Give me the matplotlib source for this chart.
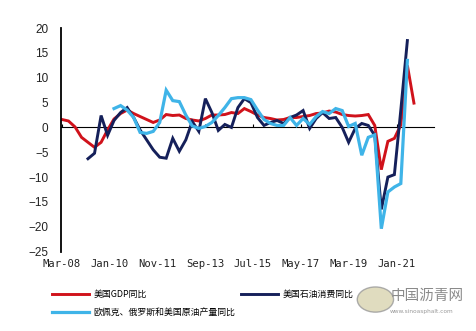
import numpy as np
import pandas as pd
import matplotlib
matplotlib.use("Agg")
import matplotlib.pyplot as plt
import matplotlib.dates as mdates
from matplotlib.lines import Line2D
from matplotlib.patches import Circle

nan = np.nan
dates = pd.date_range("2008-03-01", periods=55, freq="3MS")

gdp = [1.6, 1.3, 0.1, -2.0, -3.0, -4.0, -3.0, -0.5, 1.7, 2.8,
       3.5, 2.8, 2.2, 1.6, 1.0, 1.5, 2.6, 2.4, 2.5, 1.8,
       1.5, 1.3, 1.8, 2.5, 2.5, 2.6, 3.0, 2.8, 3.8, 3.2,
       2.5, 2.0, 1.8, 1.5, 1.6, 2.0, 2.0, 2.2, 2.4, 2.8,
       2.9, 3.3, 3.1, 2.6, 2.4, 2.3, 2.4, 2.6, 0.4, -8.5,
       -2.8, -2.2, 0.5, 12.5, 4.9]

consumption = [nan, nan, nan, nan, -6.3, -5.2, 2.4, -1.6, 1.4, 3.0,
               4.0, 2.0, -0.5, -2.5, -4.5, -6.0, -6.2, -2.2, -4.8, -2.5,
               1.2, -0.8, 5.8, 3.0, -0.6, 0.6, 0.0, 4.0, 5.8, 5.0,
               2.0, 0.4, 1.0, 1.4, 0.8, 2.0, 2.5, 3.4, -0.2, 1.8,
               3.0, 1.8, 2.0, 0.0, -3.0, -0.2, 0.8, 0.4, -1.6, -16.5,
               -10.0, -9.5, 3.5, 17.5, nan]

production = [nan, nan, nan, nan, nan, nan, nan, nan, 3.8, 4.4,
              3.5, 2.0, -1.0, -1.2, -0.8, 1.0, 7.5, 5.4, 5.2, 2.5,
              0.3, -0.2, 0.2, 1.0, 2.4, 4.0, 5.8, 6.0, 6.0, 5.6,
              3.5, 1.6, 0.8, 0.4, 0.4, 2.0, 0.4, 1.8, 0.6, 2.2,
              3.2, 2.8, 3.8, 3.4, 0.2, 0.8, -5.6, -2.0, -1.5, -20.4,
              -13.0, -12.0, -11.3, 13.5, nan]

series_labels = ["美国GDP同比", "美国石油消费同比", "欧佩克、俄罗斯和美国原油产量同比"]
tick_dates = pd.date_range("2008-03-01", periods=8, freq="22MS")
yticks = [20, 15, 10, 5, 0, -5, -10, -15, -20, -25]

c_red = "#d0121b"
c_navy = "#15205a"
c_light = "#3fb4e8"

fig = plt.figure(figsize=(4.77, 3.31), dpi=100)
ax = fig.add_axes([0.128, 0.240, 0.782, 0.675])

ax.plot(dates, gdp, color=c_red, lw=2.1, solid_joinstyle="miter")
ax.plot(dates, consumption, color=c_navy, lw=2.1, solid_joinstyle="miter")
ax.plot(dates, production, color=c_light, lw=2.3, solid_joinstyle="miter")

ax.set_ylim(-25, 20)
ax.set_yticks(yticks)
ax.set_yticklabels([str(v).replace("-", "\u2212") for v in yticks],
                   fontsize=8.5, family="Liberation Sans", color="#222222")
ax.tick_params(axis="y", length=0, pad=9)

ax.set_xlim(pd.Timestamp("2008-02-18"), pd.Timestamp("2022-06-10"))
ax.set_xticks(tick_dates)
ax.set_xticklabels([d.strftime("%b-%y") for d in tick_dates],
                   fontsize=7.6, family="DejaVu Sans Mono", color="#222222")
ax.tick_params(axis="x", length=0, pad=5)

for s in ["top", "right", "bottom"]:
    ax.spines[s].set_visible(False)
ax.spines["left"].set_linewidth(1.3)
ax.spines["left"].set_color("black")

# zero axis line with small ticks
sec = ax.secondary_xaxis(25 / 45)
sec.set_xticks(tick_dates)
sec.set_xticklabels([])
sec.tick_params(axis="x", direction="out", length=2.5, width=0.8, color="black")
sec.spines["bottom"].set_linewidth(1.1)
sec.spines["bottom"].set_color("black")

handles = [Line2D([], [], color=c_red, lw=2.1),
           Line2D([], [], color=c_light, lw=2.3),
           Line2D([], [], color=c_navy, lw=2.1)]
labels = [series_labels[0], series_labels[2], series_labels[1]]
fig.legend(handles, labels, loc="upper left", bbox_to_anchor=(0.095, 0.143),
           ncol=2, frameon=False, prop={"family": "Noto Sans CJK SC", "size": 6.4},
           handlelength=4.2, handletextpad=0.5, columnspacing=0.6,
           labelspacing=1.0, borderpad=0.2)

# watermark
fig.patches.append(Circle((0.787, 0.095), 0.038, transform=fig.transFigure,
                          facecolor="#d9d4b0", edgecolor="#9a9a9a", lw=1.0, alpha=0.8))
fig.text(0.818, 0.105, "中国沥青网", family="Noto Sans CJK SC", fontsize=10.5,
         color="#8a8a8a", va="center", ha="left")
fig.text(0.818, 0.058, "www.sinoasphalt.com", family="DejaVu Sans", fontsize=4.2,
         color="#9a9a9a", va="center", ha="left")

fig.savefig("out.png", dpi=100, facecolor="white")
